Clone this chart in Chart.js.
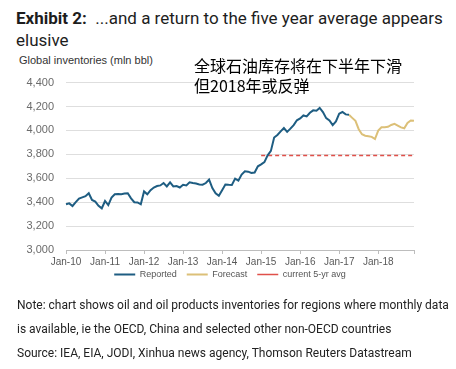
<!DOCTYPE html>
<html>
<head>
<meta charset="utf-8">
<script src="https://cdn.jsdelivr.net/npm/chart.js@4.4.0/dist/chart.umd.min.js"></script>
<style>
  body { margin: 0; background: #fff; width: 456px; height: 369px; position: relative; overflow: hidden; font-family: Roboto, sans-serif; }
  .title { position: absolute; left: 16px; top: 7px; font-size: 17px; line-height: 22px; color: #1d1d1d; white-space: nowrap; }
  .unit { position: absolute; left: 19px; top: 54px; font-family: 'Liberation Sans', Arial, sans-serif; font-size: 11px; color: #333; }
  .cn { position: absolute; left: 194px; top: 55px; font-family: 'Noto Sans CJK SC', sans-serif; font-size: 16px; line-height: 20px; color: #000; }
  .note { position: absolute; left: 17px; top: 293px; font-size: 12px; line-height: 24px; color: #222; white-space: nowrap; }
  .box { position: absolute; left: 0; top: 64px; width: 456px; height: 235px; }
</style>
</head>
<body>
<div class="title"><b>Exhibit 2:</b>&nbsp; ...and a return to the five year average appears<br>elusive</div>
<div class="unit">Global inventories (mln bbl)</div>
<div class="box"><canvas id="chart"></canvas></div>
<div class="cn">全球石油库存将在下半年下滑<br>但2018年或反弹</div>
<div class="note">Note: chart shows oil and oil products inventories for regions where monthly data<br>is available, ie the OECD, China and selected other non-OECD countries<br>Source: IEA, EIA, JODI, Xinhua news agency, Thomson Reuters Datastream</div>

<script>
const monthNames = ['Jan', 'Feb', 'Mar', 'Apr', 'May', 'Jun', 'Jul', 'Aug', 'Sep', 'Oct', 'Nov', 'Dec'];
const years = ['10', '11', '12', '13', '14', '15', '16', '17', '18'];

// monthly, starting Jan-10
const reported = [
    3382, 3390, 3368, 3400, 3430, 3440, 3450, 3475, 3419, 3405, 3370, 3348,
    3410, 3376, 3438, 3466, 3468, 3466, 3472, 3475, 3432, 3400, 3398, 3382,
    3490, 3466, 3500, 3522, 3535, 3540, 3560, 3532, 3566, 3532, 3535, 3523,
    3546, 3540, 3566, 3560, 3556, 3548, 3546, 3560, 3589, 3518, 3475, 3453,
    3500, 3548, 3545, 3543, 3597, 3580, 3631, 3659, 3655, 3645, 3648, 3700,
    3716, 3735, 3792, 3829, 3941, 3962, 3992, 4020, 3988, 4015, 4045, 4085,
    4100, 4125, 4117, 4148, 4168, 4165, 4188, 4154, 4103, 4083, 4045, 4075,
    4140, 4154, 4134, 4131
];

// monthly, starting Apr-17
const forecastStart = 'Apr-17';
const forecast = [
    4131, 4105, 4080, 4010, 3968, 3956, 3952, 3946, 3928,
    3998, 4026, 4026, 4030, 4046, 4055, 4041, 4025, 4018, 4063, 4083, 4080
];

const avgStart = 'Jan-15';
const avgEnd = 'Dec-18';
const avgValue = 3790;

const yTicks = [3000, 3200, 3400, 3600, 3800, 4000, 4200, 4400];

const labels = [];
years.forEach(y => monthNames.forEach(m => labels.push(m + '-' + y)));

const fIdx = labels.indexOf(forecastStart);

function tickShown(i) {
    return i % 12 === 0 || i === labels.length - 1;
}

// nudge the legend so it sits centred under the plot and close to the axis labels
const legendShift = {
    id: 'legendShift',
    afterLayout(chart) {
        const lg = chart.legend;
        lg.left += 18;
        lg.right += 18;
        lg.top -= 10;
        lg.bottom -= 10;
    }
};

function createLineChart() {
    const ctx = document.getElementById('chart').getContext('2d');
    return new Chart(ctx, {
        type: 'line',
        data: {
            labels: labels,
            datasets: [
                {
                    label: 'Reported',
                    data: reported.map((v, i) => ({ x: labels[i], y: v })),
                    borderColor: '#1e5d82',
                    backgroundColor: 'rgba(0, 0, 0, 0)',
                    borderWidth: 2,
                    pointRadius: 0,
                    tension: 0
                },
                {
                    label: 'Forecast',
                    data: forecast.map((v, i) => ({ x: labels[fIdx + i], y: v })),
                    borderColor: '#dcc078',
                    backgroundColor: 'rgba(0, 0, 0, 0)',
                    borderWidth: 2,
                    pointRadius: 0,
                    tension: 0
                },
                {
                    label: 'current 5-yr avg',
                    data: [{ x: avgStart, y: avgValue }, { x: avgEnd, y: avgValue }],
                    borderColor: '#e0504a',
                    backgroundColor: 'rgba(0, 0, 0, 0)',
                    borderWidth: 1.5,
                    borderDash: [4, 3],
                    pointRadius: 0,
                    tension: 0
                }
            ]
        },
        plugins: [legendShift],
        options: {
            responsive: true,
            maintainAspectRatio: false,
            animation: false,
            devicePixelRatio: 1,
            layout: { padding: { left: 10, right: 42, top: 6, bottom: 0 } },
            plugins: {
                tooltip: { enabled: false },
                legend: {
                    position: 'bottom',
                    labels: {
                        boxWidth: 21,
                        boxHeight: 0,
                        padding: 10,
                        color: '#555',
                        font: { family: 'Liberation Sans', size: 9 }
                    }
                }
            },
            scales: {
                x: {
                    type: 'category',
                    offset: false,
                    grid: {
                        drawOnChartArea: false,
                        drawTicks: true,
                        tickLength: 4,
                        color: c => tickShown(c.index) ? '#bdbdbd' : 'rgba(0,0,0,0)'
                    },
                    border: { display: true, color: '#bdbdbd' },
                    ticks: {
                        autoSkip: false,
                        maxRotation: 0,
                        minRotation: 0,
                        padding: 2,
                        color: '#595959',
                        font: { family: 'Liberation Sans', size: 10 },
                        callback: (v, i) => labels[i].startsWith('Jan') ? labels[i] : ''
                    }
                },
                y: {
                    min: yTicks[0],
                    max: yTicks[yTicks.length - 1],
                    afterBuildTicks: s => { s.ticks = yTicks.map(v => ({ value: v })); },
                    afterFit: s => { s.width = 56; },
                    grid: { color: '#dedede', drawTicks: false },
                    border: { display: false },
                    ticks: {
                        padding: 12,
                        color: '#6b6b6b',
                        font: { family: 'Liberation Sans', size: 11 },
                        callback: v => v.toLocaleString('en-US')
                    }
                }
            }
        }
    });
}

createLineChart();
</script>
</body>
</html>
